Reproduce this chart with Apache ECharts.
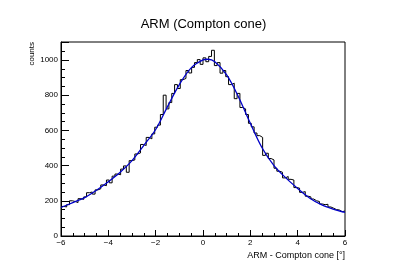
<!DOCTYPE html>
<html><head><meta charset="utf-8">
<script src="https://cdn.jsdelivr.net/npm/echarts@6/dist/echarts.min.js"></script>
<style>html,body{margin:0;padding:0;background:#fff}#c{width:407px;height:278px}</style>
</head><body><div id="c"></div>
<script>
// histogram: 100 bins from -6 to 6
const binLow = -6;
const binWidth = 0.12;
const counts = [
  168,165,178,200,196,190,212,208,222,246,
  250,238,262,268,290,286,318,302,340,352,
  348,380,398,362,428,432,466,472,520,514,
  560,552,580,618,630,690,800,722,758,810,
  860,838,888,895,940,926,958,985,1002,975,
  1012,990,1020,1055,968,985,925,940,905,860,
  868,780,810,730,722,690,640,620,585,570,
  560,458,470,440,432,385,368,362,330,338,
  322,318,275,272,248,252,226,222,210,200,
  196,182,178,180,165,158,150,148,138,142
];
// fitted curve
const fitX = [-6,-5.5,-5,-4.5,-4,-3.5,-3,-2.5,-2,-1.5,-1,-0.5,0,0.2,0.5,1,1.5,2,2.5,3,3.5,4,4.5,5,5.5,6];
const fitY = [162,190,218,260,308,362,428,515,605,735,860,955,1000,1004,990,915,790,640,500,400,330,270,216,178,153,134];
const xTicks = {min:-6, max:6, step:2};
const yTicks = {min:0, max:1102, step:200};

const histData = counts.map((v,i)=>[binLow + i*binWidth, v]);
histData.push([binLow + counts.length*binWidth, counts[counts.length-1]]);
const fitData = fitX.map((x,i)=>[x, fitY[i]]);

const FONT = 'Liberation Sans, Arial, sans-serif';
const chart = echarts.init(document.getElementById('c'), null, {renderer:'canvas'});
chart.setOption({
  animation:false,
  backgroundColor:'#fff',
  title:{text:'ARM (Compton cone)', left:'center', top:13,
    textStyle:{fontFamily:FONT, fontSize:13, fontWeight:'normal', color:'#000'}},
  grid:{left:61, top:42, width:284, height:194, show:true, borderColor:'#000', borderWidth:1},
  xAxis:{type:'value', min:xTicks.min, max:xTicks.max, interval:xTicks.step,
    axisLine:{show:true, onZero:false, lineStyle:{color:'#000', width:1}},
    axisTick:{show:true, inside:true, length:6, lineStyle:{color:'#000'}},
    minorTick:{show:true, splitNumber:4, length:3, lineStyle:{color:'#000'}},
    splitLine:{show:false},
    axisLabel:{fontFamily:FONT, fontSize:8, color:'#000', margin:3,
      formatter:v=>String(v).replace('-', '\u2212')}},
  yAxis:{type:'value', min:yTicks.min, max:yTicks.max, interval:yTicks.step,
    axisLine:{show:true, onZero:false, lineStyle:{color:'#000', width:1}},
    axisTick:{show:true, inside:true, length:8, lineStyle:{color:'#000'}},
    minorTick:{show:true, splitNumber:4, length:4, lineStyle:{color:'#000'}},
    splitLine:{show:false},
    axisLabel:{fontFamily:FONT, fontSize:8, color:'#000', margin:3,
      formatter:v=> (v % 200 === 0 ? String(v) : '')}},
  graphic:[
    {type:'text', right:407-345, top:251, style:{text:'ARM - Compton cone [\u00b0]', fontFamily:FONT, fontSize:9, fill:'#000'}},
    {type:'text', x:28, y:42, rotation:Math.PI/2, style:{text:'counts', fontFamily:FONT, fontSize:8, fill:'#000', align:'right', verticalAlign:'top'}}
  ],
  series:[
    {type:'line', data:histData, step:'end', symbol:'none', lineStyle:{color:'#000', width:1}, z:2},
    {type:'line', data:fitData, smooth:0.35, symbol:'none', lineStyle:{color:'#0000c8', width:1.3}, z:3}
  ]
});
</script></body></html>
